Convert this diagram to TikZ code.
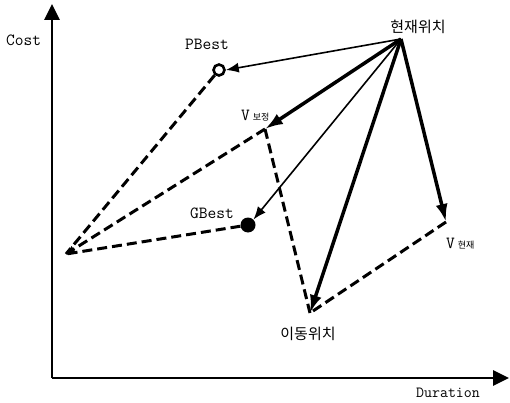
\documentclass[tikz,border=0pt]{standalone}
\usepackage{fontspec}
\newfontfamily\krf{Noto Sans CJK KR}
\usetikzlibrary{arrows.meta}
\begin{document}
\begin{tikzpicture}[x=1pt,y=-1pt,
  axis/.style={line width=2.8pt,-{Triangle[length=16pt,width=15pt]}},
  thickarrow/.style={line width=3.5pt,-{Latex[length=18pt,width=12pt]}},
  thinarrow/.style={line width=1.6pt,-{Latex[length=13pt,width=10pt]}},
  dashline/.style={line width=3pt,dash pattern=on 10pt off 5pt},
  latin/.style={font=\ttfamily\fontsize{17}{17}\selectfont,inner sep=0pt},
  korean/.style={font=\krf\fontsize{15}{15}\selectfont,inner sep=0pt}]
\useasboundingbox (0,0) rectangle (510,403);
% axes
\coordinate (origin) at (52,378);
\coordinate (ytop) at (52,4);
\coordinate (xend) at (509,378);
\draw[axis] (origin) -- (ytop);
\draw[axis] (origin) -- (xend);
\node[latin,anchor=west] (costlbl) at (6,40) {Cost};
\node[latin,anchor=center,font=\ttfamily\fontsize{15.5}{15.5}\selectfont] (durlbl) at (448,393) {Duration};
% points
\coordinate (cur) at (401,39);
\coordinate (left) at (66,254);
\coordinate (vcor) at (265,129);
\coordinate (vcur) at (446,222);
\coordinate (move) at (310,313);
\node[circle,draw,line width=2.6pt,minimum size=11pt,inner sep=0pt] (pbest) at (219,70) {};
\node[circle,fill,minimum size=15pt,inner sep=0pt] (gbest) at (248,225) {};
% dashed construction lines
\draw[dashline] (pbest) -- (left);
\draw[dashline] (gbest) -- (left);
\draw[dashline,-{Latex[length=9pt,width=8pt]}] (vcor) -- (left);
\draw[dashline] (vcor) -- (move);
\draw[dashline] (vcur) -- (move);
% arrows from current position
\draw[thinarrow] (cur) -- (pbest.east);
\draw[thinarrow] (cur) -- (gbest.north east);
\draw[thickarrow] (cur) -- (vcor);
\draw[thickarrow] (cur) -- (move);
\draw[thickarrow] (cur) -- (vcur);
% labels
\node[korean] (curlbl) at (418,27) {현재위치};
\node[latin] (pbestlbl) at (207,44) {PBest};
\node[latin] (gbestlbl) at (212,213) {GBest};
\node[korean] (movelbl) at (308,334) {이동위치};
\node[latin,anchor=west] (vcorlbl) at (241,116) {V\,{\krf\fontsize{9}{9}\selectfont 보정}};
\node[latin,anchor=west] (vcurlbl) at (446,244) {V\,{\krf\fontsize{9}{9}\selectfont 현재}};
\end{tikzpicture}
\end{document}
